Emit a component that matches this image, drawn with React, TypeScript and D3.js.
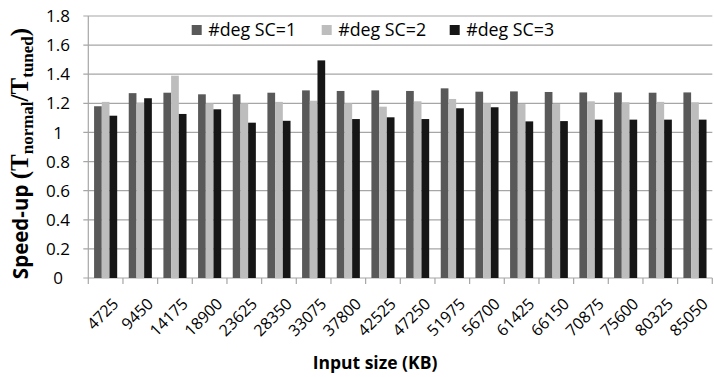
import React from 'react';
import * as d3 from 'd3';

const sizes = ['4725', '9450', '14175', '18900', '23625', '28350', '33075', '37800', '42525', '47250', '51975', '56700', '61425', '66150', '70875', '75600', '80325', '85050'];
const seriesNames = ['#deg SC=1', '#deg SC=2', '#deg SC=3'];
const sc1 = [1.18, 1.27, 1.273, 1.262, 1.262, 1.273, 1.289, 1.285, 1.289, 1.285, 1.303, 1.28, 1.282, 1.278, 1.275, 1.275, 1.273, 1.275];
const sc2 = [1.21, 1.205, 1.39, 1.2, 1.2, 1.21, 1.218, 1.2, 1.177, 1.214, 1.23, 1.2, 1.195, 1.195, 1.214, 1.207, 1.21, 1.207];
const sc3 = [1.115, 1.235, 1.127, 1.159, 1.067, 1.08, 1.495, 1.092, 1.104, 1.092, 1.166, 1.173, 1.076, 1.078, 1.088, 1.088, 1.088, 1.088];
const yTicks = [0, 0.2, 0.4, 0.6, 0.8, 1, 1.2, 1.4, 1.6, 1.8];
const colors = ['#595959', '#bdbdbd', '#161616'];

export default function App() {
  const w = 714;
  const h = 377;
  const left = 88.3;
  const right = 712.3;
  const top = 16;
  const bottom = 278;
  const font = '"Open Sans", sans-serif';
  const serif = '"Liberation Serif", serif';

  const values = [sc1, sc2, sc3];

  // scales
  const x0 = d3.scaleBand().domain(sizes).range([left, right]).paddingInner(1 / 3).paddingOuter(1 / 6);
  const x1 = d3.scaleBand().domain(seriesNames).range([0, x0.bandwidth()]);
  const y = d3.scaleLinear().domain([0, 1.8]).range([bottom, top]);

  const legendX = [191.7, 321.7, 449.7];

  return (
    <svg width={w} height={h} style={{ position: 'absolute', left: 0, top: 0, background: '#fff' }}>
      {/* grid */}
      {yTicks.map((t) => (
        <g key={t}>
          <line x1={left - 5} x2={right} y1={y(t)} y2={y(t)} stroke="#a6a6a6" strokeWidth={1.2} />
          <text x={58} y={y(t)} dy="0.36em" textAnchor="middle" fontFamily={font} fontSize={17} fill="#000">
            {d3.format('')(t)}
          </text>
        </g>
      ))}
      <line x1={left} x2={left} y1={top} y2={bottom} stroke="#a6a6a6" strokeWidth={1.2} />

      {/* bars */}
      {sizes.map((s, i) => (
        <g key={s} transform={`translate(${x0(s)},0)`}>
          {seriesNames.map((n, k) => (
            <rect
              key={n}
              x={x1(n)}
              y={y(values[k][i])}
              width={x1.bandwidth()}
              height={bottom - y(values[k][i])}
              fill={colors[k]}
            />
          ))}
        </g>
      ))}

      {/* x axis */}
      {sizes.map((s, i) => (
        <line key={'t' + s} x1={left + i * x0.step()} x2={left + i * x0.step()} y1={bottom} y2={bottom + 6} stroke="#a6a6a6" strokeWidth={1.2} />
      ))}
      <line x1={right} x2={right} y1={bottom} y2={bottom + 6} stroke="#a6a6a6" strokeWidth={1.2} />
      {sizes.map((s) => {
        const cx = x0(s)! + x0.bandwidth() / 2;
        return (
          <text
            key={'l' + s}
            transform={`translate(${cx + 6},${bottom + 19}) rotate(-45)`}
            textAnchor="end"
            dy="0.7em"
            fontFamily={font}
            fontSize={16}
            fill="#000"
          >
            {s}
          </text>
        );
      })}

      {/* legend */}
      {seriesNames.map((n, k) => (
        <g key={'lg' + n}>
          <rect x={legendX[k]} y={25} width={10} height={10} fill={colors[k]} />
          <text x={legendX[k] + 16.5} y={30} dy="0.36em" fontFamily={font} fontSize={17.8} fill="#000">
            {n}
          </text>
        </g>
      ))}

      {/* axis titles */}
      <text x={375} y={363} dy="0.36em" textAnchor="middle" fontFamily={font} fontSize={17.5} fontWeight="bold" fill="#000">
        Input size (KB)
      </text>
      <text transform="translate(22,153.5) rotate(-90)" dy="0.36em" textAnchor="middle" fontWeight="bold" fill="#000">
        <tspan fontFamily={font} fontSize={20.5}>Speed-up </tspan>
        <tspan fontFamily={serif} fontSize={25}>(T</tspan>
        <tspan fontFamily={serif} fontSize={17} dy={5}>normal</tspan>
        <tspan fontFamily={serif} fontSize={25} dy={-5}>/T</tspan>
        <tspan fontFamily={serif} fontSize={17} dy={5}>tuned</tspan>
        <tspan fontFamily={serif} fontSize={25} dy={-5}>)</tspan>
      </text>
    </svg>
  );
}
